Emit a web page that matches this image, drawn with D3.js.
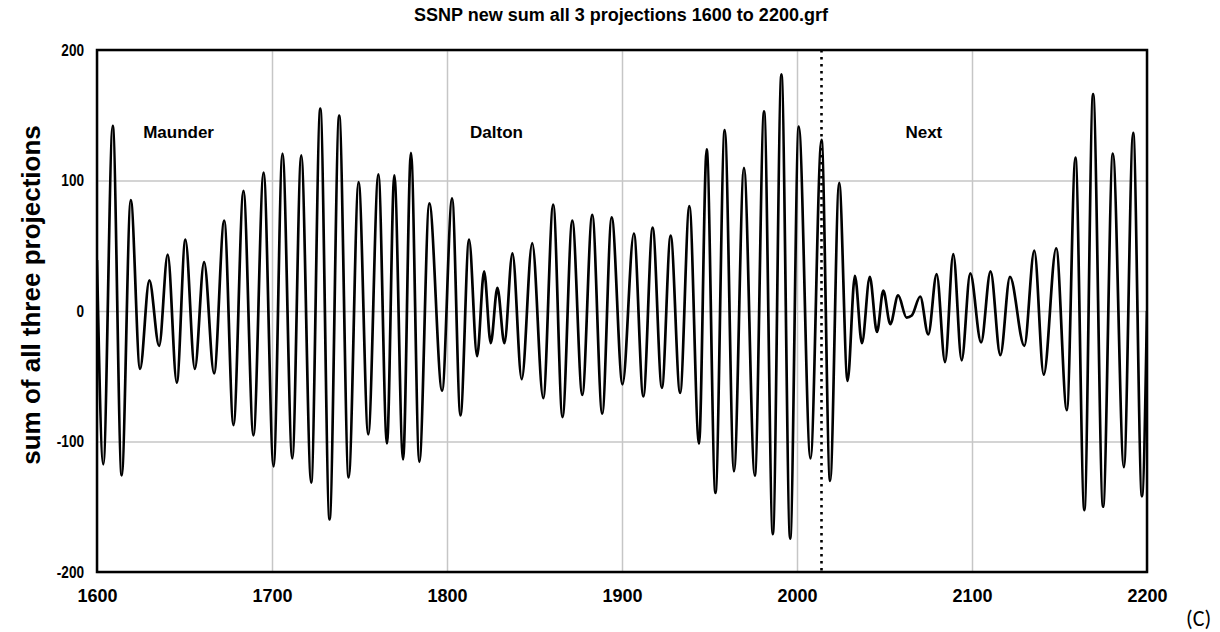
<!DOCTYPE html>
<html>
<head>
<meta charset="utf-8">
<script src="https://cdn.jsdelivr.net/npm/d3@7"></script>
<style>
  html, body { margin: 0; padding: 0; background: #fff; }
  svg { display: block; }
  text { font-family: "Liberation Sans", Arial, sans-serif; fill: #000; }
</style>
</head>
<body>
<svg id="chart" width="1220" height="632"></svg>
<script>
// ---- data (extrema of the curve) ----
const years = [
  1600, 1603.6, 1609.0, 1614.1, 1619.3, 1624.6, 1629.9, 1635.5, 1640.4, 1645.6,
  1650.5, 1655.9, 1661.2, 1666.9, 1672.7, 1678.0, 1683.7, 1689.4, 1695.2, 1700.9,
  1706.0, 1711.6, 1716.7, 1722.4, 1727.6, 1732.9, 1738.4, 1743.8, 1749.5, 1755.0,
  1760.8, 1765.7, 1769.9, 1774.9, 1779.4, 1784.2, 1789.9, 1797.2, 1802.9, 1807.7,
  1812.6, 1817.2, 1821.2, 1825.0, 1828.8, 1832.8, 1837.4, 1842.7, 1848.7, 1855.0,
  1860.7, 1866.0, 1871.6, 1877.3, 1883.0, 1888.7, 1894.1, 1900.3, 1906.8, 1912.2,
  1917.5, 1922.8, 1927.8, 1933.2, 1938.5, 1944.0, 1948.4, 1953.4, 1958.7, 1964.0,
  1969.7, 1975.9, 1981.2, 1986.2, 1991.1, 1996.1, 2001.0, 2007.7, 2014.0, 2018.9,
  2024.1, 2028.9, 2033.1, 2037.1, 2041.6, 2045.7, 2049.3, 2053.3, 2057.8, 2062.6,
  2065.6, 2070.4, 2075.0, 2079.8, 2084.6, 2089.3, 2094.1, 2099.0, 2105.2, 2110.6,
  2116.2, 2121.7, 2129.9, 2135.6, 2141.0, 2148.1, 2154.2, 2159.1, 2164.2, 2169.2,
  2174.9, 2180.5, 2186.8, 2192.1, 2197.1, 2200
];
const values = [
  39, -117.5, 141.8, -126, 85, -44.4, 23.5, -26.7, 43.3, -54.9,
  54.7, -44.4, 37.5, -47.8, 69.2, -87.4, 92.1, -95.3, 106.1, -119,
  120.7, -113, 119.3, -131.5, 155, -159.7, 149.7, -127.5, 98.7, -94.5,
  104.8, -101.5, 104, -113.8, 121.2, -115.6, 82.4, -61, 86.3, -80,
  54.7, -34.6, 30.4, -24.6, 17.7, -24.6, 44.1, -52.3, 52, -66.8,
  81.6, -81.3, 69.2, -64.2, 73.7, -78.7, 71.8, -56.2, 59.4, -65.5,
  63.9, -58.9, 57.8, -62.8, 80.3, -101.7, 123.8, -139.4, 138.6, -122.8,
  109.6, -126.2, 152.9, -171, 181.4, -174.5, 141.3, -113, 131.2, -130.2,
  98.2, -53.6, 26.9, -24.6, 26.1, -16.1, 15.6, -10, 11.9, -5,
  -3.4, 11.1, -18, 28.3, -39.1, 43.6, -37.8, 28.8, -24, 30.4,
  -33.8, 26.1, -26.7, 46.2, -48.8, 48.1, -76, 117.5, -152.6, 166.3,
  -150, 120.7, -119.6, 136.5, -142, 0
];
const xTicks = [1600, 1700, 1800, 1900, 2000, 2100, 2200];
const yTicks = [-200, -100, 0, 100, 200];
const periodNames = ["Maunder", "Dalton", "Next"];
const periodYears = [1646.6, 1828.3, 2072.5];
const periodLevel = 137;
const markerYear = 2014;
const titleText = "SSNP new sum all 3 projections 1600 to 2200.grf";
const yLabelText = "sum of all three projections";
const cornerText = "(C)";

// ---- layout ----
const W = 1220, H = 632;
const m = { left: 97, top: 50, right: 73, bottom: 60 };
const iw = W - m.left - m.right, ih = H - m.top - m.bottom;
const fmt = d => String(d); // plain hyphen minus like the original

const svg = d3.select("#chart");
const g = svg.append("g").attr("transform", `translate(${m.left},${m.top})`);

const x = d3.scaleLinear().domain([1600, 2200]).range([0, iw]);
const y = d3.scaleLinear().domain([-200, 200]).range([ih, 0]);

// gridlines
g.append("g").attr("class", "grid")
  .call(d3.axisBottom(x).tickValues(xTicks).tickSize(ih).tickFormat(""))
  .call(s => s.select(".domain").remove())
  .call(s => s.selectAll("line").attr("stroke", "#c6c6c6").attr("stroke-width", 1.5));
g.append("g").attr("class", "grid")
  .call(d3.axisRight(y).tickValues(yTicks).tickSize(iw).tickFormat(""))
  .call(s => s.select(".domain").remove())
  .call(s => s.selectAll("line").attr("stroke", "#c6c6c6").attr("stroke-width", 1.5));

// clip
svg.append("defs").append("clipPath").attr("id", "clip")
  .append("rect").attr("x", 0).attr("y", 0).attr("width", iw).attr("height", ih);

// dotted marker line
g.append("line")
  .attr("x1", x(markerYear)).attr("x2", x(markerYear))
  .attr("y1", 0).attr("y2", ih)
  .attr("stroke", "#000").attr("stroke-width", 2.6)
  .attr("stroke-dasharray", "2.6,4.4");

// curve
const pts = years.map((yr, i) => [yr, values[i]]);
const line = d3.line().x(d => x(d[0])).y(d => y(d[1])).curve(d3.curveMonotoneX);
g.append("path").datum(pts)
  .attr("clip-path", "url(#clip)")
  .attr("d", line)
  .attr("fill", "none").attr("stroke", "#000")
  .attr("stroke-width", 2.7).attr("stroke-linejoin", "round");

// frame
g.append("rect").attr("x", 0).attr("y", 0).attr("width", iw).attr("height", ih)
  .attr("fill", "none").attr("stroke", "#000").attr("stroke-width", 2.5);

// x axis labels
g.append("g").attr("transform", `translate(0,${ih})`)
  .call(d3.axisBottom(x).tickValues(xTicks).tickSize(0).tickPadding(17).tickFormat(fmt))
  .call(s => s.select(".domain").remove())
  .call(s => s.selectAll("text").attr("font-size", 18).attr("font-weight", "bold")
    .attr("font-family", "'Liberation Sans', Arial, sans-serif").attr("fill", "#000"));

// y axis labels (narrow, tall digits like the original)
const ySx = 0.8, yPad = 13;
g.append("g")
  .call(d3.axisLeft(y).tickValues(yTicks).tickSize(0).tickPadding(yPad).tickFormat(fmt))
  .call(s => s.select(".domain").remove())
  .call(s => s.selectAll("text").attr("font-size", 17).attr("font-weight", "bold")
    .attr("font-family", "'Liberation Sans', Arial, sans-serif").attr("fill", "#000")
    .attr("x", -yPad / ySx).attr("transform", `scale(${ySx},1)`));

// period labels
g.selectAll("text.period").data(periodNames).enter().append("text")
  .attr("class", "period")
  .attr("x", (d, i) => x(periodYears[i]))
  .attr("y", y(periodLevel))
  .attr("dy", "0.35em")
  .attr("text-anchor", "middle")
  .attr("font-size", 17).attr("font-weight", "bold")
  .text(d => d);

// title
svg.append("text").attr("x", 621).attr("y", 21)
  .attr("text-anchor", "middle").attr("font-size", 18).attr("font-weight", "bold")
  .text(titleText);

// y axis title
svg.append("text").attr("transform", "translate(40,295) rotate(-90)")
  .attr("text-anchor", "middle").attr("font-size", 26).attr("font-weight", "bold")
  .text(yLabelText);

// corner label
svg.append("text").attr("x", 1186).attr("y", 626)
  .attr("font-size", 22)
  .style("font-family", "Carlito, Lato, 'Open Sans', sans-serif")
  .text(cornerText);
</script>
</body>
</html>
